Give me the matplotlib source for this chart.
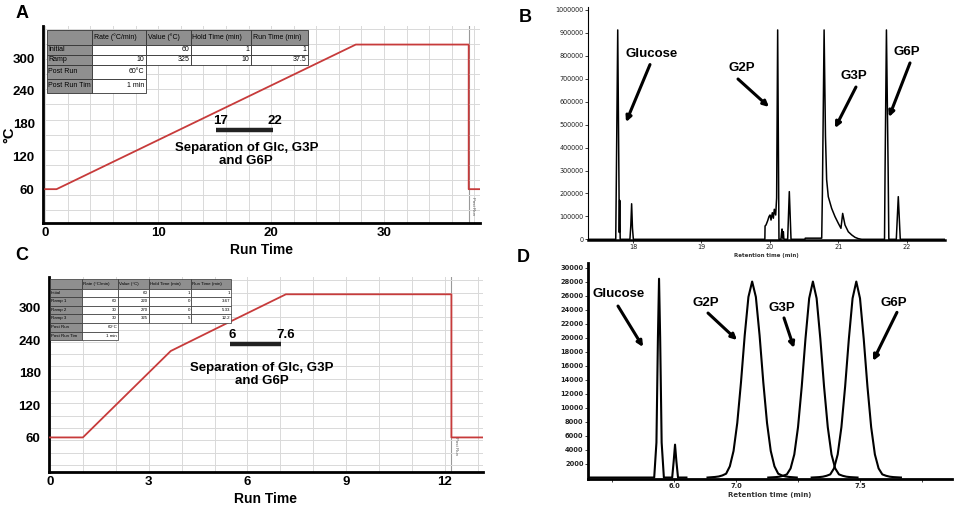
import matplotlib
matplotlib.use("Agg")
import matplotlib.pyplot as plt
from matplotlib.patches import Rectangle
from matplotlib.ticker import MultipleLocator

plt.rcParams['font.family'] = ['Liberation Sans', 'DejaVu Sans']

# ------------------------------------------------------------------ data
# Panel A: oven temperature program (min, degC)
a_time = [0, 1, 27.5, 37.5, 37.5, 38.5]
a_temp = [60, 60, 325, 325, 60, 60]
a_xticks = [0, 10, 20, 30]
a_yticks = [60, 120, 180, 240, 300]
a_postrun = 37.5
a_window_labels = ["17", "22"]
table_header = ["", "Rate (°C/min)", "Value (°C)", "Hold Time (min)", "Run Time (min)"]
a_table_rows = [["Initial", "", "60", "1", "1"],
                ["Ramp", "10", "325", "10", "37.5"],
                ["Post Run", "60°C"],
                ["Post Run Tim", "1 min"]]

# Panel C: fast oven temperature program
c_time = [0, 1, 3.67, 5.33, 7.17, 12.2, 12.2, 13.2]
c_temp = [60, 60, 220, 270, 325, 325, 60, 60]
c_xticks = [0, 3, 6, 9, 12]
c_yticks = [60, 120, 180, 240, 300]
c_postrun = 12.2
c_window_labels = ["6", "7.6"]
c_table_rows = [["Initial", "", "60", "1", "1"],
                ["Ramp 1", "60", "220", "0", "3.67"],
                ["Ramp 2", "30", "270", "0", "5.33"],
                ["Ramp 3", "30", "325", "5", "12.2"],
                ["Post Run", "60°C"],
                ["Post Run Tim", "1 min"]]
separation_text = "Separation of Glc, G3P\nand G6P"

# Panel B: chromatogram (retention time, min ; abundance)
b_time = [17.343, 17.748, 17.758, 17.777, 17.795, 17.800, 17.806, 17.813,
          17.955, 17.968, 17.980, 17.992, 18.005,
          19.925, 19.928, 19.942, 19.966, 19.985, 20.000, 20.015, 20.034, 20.049,
          20.063, 20.083, 20.097, 20.112, 20.131,
          20.160, 20.168, 20.176, 20.186, 20.195, 20.202, 20.210,
          20.258, 20.282, 20.307,
          20.510, 20.515, 20.740,
          20.755, 20.765, 20.790, 20.810, 20.827, 20.851, 20.900, 20.949, 20.997,
          21.036, 21.061, 21.095, 21.143, 21.193, 21.241, 21.289, 21.339,
          21.672, 21.680, 21.700, 21.725, 21.735,
          21.844, 21.873, 21.902,
          22.555]
b_signal = [0, 0, 300000, 913000, 250000, 30000, 170000, 0,
            0, 60000, 155000, 50000, 0,
            0, 58000, 62500, 81000, 99000, 106000, 84000, 116000, 92000,
            131000, 106000, 180000, 913000, 0,
            0, 26000, 45000, 5000, 33000, 3000, 0,
            0, 208000, 0,
            0, 5000, 5000,
            5000, 200000, 913000, 450000, 260000, 186000, 135000, 99000, 70000,
            48000, 113000, 62500, 33000, 19000, 8700, 2900, 0,
            0, 300000, 913000, 300000, 0,
            0, 186000, 0,
            0]
b_xticks = [18, 19, 20, 21, 22]
b_yticks = [0, 100000, 200000, 300000, 400000, 500000, 600000, 700000,
            800000, 900000, 1000000]

# Panel D: chromatogram of fast method
d_glc_time = [5.306, 5.840, 5.858, 5.870, 5.879, 5.888, 5.900, 5.918,
              5.985, 5.997, 6.008, 6.019, 6.032, 6.100]
d_glc_signal = [0, 0, 5000, 20000, 28400, 20000, 5000, 0,
                0, 2300, 4700, 2300, 0, 0]
d_g2p_time = [6.27, 6.33, 6.36, 6.39, 6.42, 6.45, 6.48, 6.51, 6.54, 6.57, 6.60, 6.63,
              6.66, 6.69, 6.72, 6.75, 6.78, 6.81, 6.84, 6.87, 6.90, 6.93, 6.99]
d_g2p_signal = [0, 80, 150, 300, 550, 1600, 3800, 7800, 13600, 20300, 25800, 28000,
                25800, 20300, 13600, 7800, 3800, 1600, 550, 300, 150, 80, 0]
d_g3p_time = [6.76, 6.82, 6.85, 6.88, 6.91, 6.94, 6.97, 7.00, 7.03, 7.06, 7.09, 7.12,
              7.15, 7.18, 7.21, 7.24, 7.27, 7.30, 7.33, 7.36, 7.39, 7.42, 7.48]
d_g3p_signal = [0, 60, 120, 250, 450, 1300, 3300, 7200, 13000, 19800, 25600, 28000,
                25600, 19800, 13000, 7200, 3300, 1300, 450, 250, 120, 60, 0]
d_g6p_time = [7.11, 7.17, 7.20, 7.23, 7.26, 7.29, 7.32, 7.35, 7.38, 7.41, 7.44, 7.47,
              7.50, 7.53, 7.56, 7.59, 7.62, 7.65, 7.68, 7.71, 7.74, 7.77, 7.83]
d_g6p_signal = [0, 60, 120, 250, 450, 1300, 3300, 7200, 13000, 19800, 25600, 28000,
                25600, 19800, 13000, 7200, 3300, 1300, 450, 250, 120, 60, 0]
d_xticks = [5.5, 6.0, 6.5, 7.0, 7.5, 8.0]
d_xticklabels = ["", "6.0", "7.0", "", "7.5", ""]
d_yticks = list(range(2000, 30001, 2000))

peak_names = ["Glucose", "G2P", "G3P", "G6P"]

# ------------------------------------------------------------------ figure
W, H = 957, 508
fig = plt.figure(figsize=(W / 100, H / 100), dpi=100)
fig.patch.set_facecolor("white")


def fx(x):
    return x / W


def fy(y):
    return 1 - y / H


def px_axes(l, t, r, b):
    return fig.add_axes([l / W, 1 - b / H, (r - l) / W, (b - t) / H])


RED = "#c73b3b"
GRID = "#d9d9d9"


def style_program(ax, xlim, ylim, xticks, yticks, xgrid, ygrid, yoff):
    ax.set_xlim(*xlim)
    ax.set_ylim(*ylim)
    ax.set_xticks(xticks)
    ax.set_yticks(yticks)
    ax.xaxis.remove_overlapping_locs = False
    ax.yaxis.remove_overlapping_locs = False
    ax.xaxis.set_minor_locator(MultipleLocator(xgrid))
    ax.yaxis.set_minor_locator(MultipleLocator(ygrid, offset=yoff))
    ax.grid(which="minor", color=GRID, lw=0.7)
    ax.tick_params(which="both", length=0)
    ax.tick_params(axis="y", pad=6, labelsize=9.5)
    ax.tick_params(axis="x", pad=3, labelsize=9.5)
    for lab in ax.get_xticklabels() + ax.get_yticklabels():
        lab.set_fontweight("bold")
    for s in ["top", "right"]:
        ax.spines[s].set_visible(False)
    for s in ["left", "bottom"]:
        ax.spines[s].set_linewidth(2)
        ax.spines[s].set_color("black")
    ax.set_xlabel("Run Time", fontsize=10, fontweight="bold", labelpad=3)


def draw_table(cols, rows, header, body, fs, lw, pad):
    grey = "#8f8f8f"
    allrows = [header] + body
    for i, cells in enumerate(allrows):
        y0, y1 = rows[i], rows[i + 1]
        for j, txt in enumerate(cells):
            x0, x1 = cols[j], cols[j + 1]
            fc = grey if (i == 0 or j == 0) else "white"
            fig.add_artist(Rectangle((fx(x0), fy(y1)), (x1 - x0) / W, (y1 - y0) / H,
                                     transform=fig.transFigure, facecolor=fc,
                                     edgecolor="#333333", lw=lw, zorder=5))
            if not txt:
                continue
            if i == 0 or j == 0:
                fig.text(fx(x0 + pad), fy((y0 + y1) / 2), txt, ha="left", va="center",
                         fontsize=fs, zorder=6)
            else:
                fig.text(fx(x1 - pad), fy((y0 + y1) / 2), txt, ha="right", va="center",
                         fontsize=fs, zorder=6)


def postrun_marker(ax, x, ytxt):
    ax.axvline(x, color="#9a9a9a", lw=0.8, zorder=1.5)
    ax.text(x + 0.005 * (ax.get_xlim()[1] - ax.get_xlim()[0]), ytxt, "Post Run",
            rotation=270, fontsize=3.2, color="#555555", ha="left", va="center")


# ---------------- Panel A
axA = px_axes(43, 26, 480, 223)
axA.plot(a_time, a_temp, color=RED, lw=1.3, zorder=3)
style_program(axA, (-0.2, 38.5), (-2, 359), a_xticks, a_yticks, 2, 27.6, 22)
axA.set_ylabel("°C", fontsize=10.5, fontweight="bold")
axA.yaxis.set_label_coords(-0.060, 0.45)
postrun_marker(axA, a_postrun, 30)
axA.plot([15.13, 20.18], [167.6, 167.6], color="#222222", lw=3.2, solid_capstyle="butt")
axA.text(15.5, 184, a_window_labels[0], ha="center", va="center", fontsize=9.5, fontweight="bold")
axA.text(20.35, 184, a_window_labels[1], ha="center", va="center", fontsize=9.5, fontweight="bold")
axA.text(17.8, 124, separation_text, ha="center", va="center", fontsize=9.5,
         fontweight="bold", multialignment="center", linespacing=1.15)
draw_table([47, 92, 146, 191, 251, 308], [30, 45, 54.5, 64.5, 78.5, 92.5],
           table_header, a_table_rows, 5.0, 0.6, 1.5)

# ---------------- Panel C
axC = px_axes(49, 277, 483, 472)
axC.plot(c_time, c_temp, color=RED, lw=1.3, zorder=3)
style_program(axC, (-0.03, 13.16), (-4, 357), c_xticks, c_yticks, 1, 22.8, 9)
postrun_marker(axC, c_postrun, 45)
axC.plot([5.47, 7.02], [233, 233], color="#222222", lw=3.2, solid_capstyle="butt")
axC.text(5.53, 250, c_window_labels[0], ha="center", va="center", fontsize=9.5, fontweight="bold")
axC.text(7.17, 250, c_window_labels[1], ha="center", va="center", fontsize=9.5, fontweight="bold")
axC.text(6.44, 176, separation_text, ha="center", va="center", fontsize=9.5,
         fontweight="bold", multialignment="center", linespacing=1.15)
draw_table([50, 82, 118, 149, 191, 231],
           [279, 288.5, 297, 305.5, 314, 322.5, 331.5, 340],
           table_header, c_table_rows, 3.2, 0.5, 1.0)


def style_chrom(ax, xw, yw, tick_fs, label_fs, bold):
    for s in ["top", "right"]:
        ax.spines[s].set_visible(False)
    ax.spines["bottom"].set_linewidth(xw)
    ax.spines["left"].set_linewidth(yw)
    ax.tick_params(axis="both", direction="out", length=2, width=0.6, pad=1.2,
                   labelsize=tick_fs, labelfontfamily="DejaVu Sans", colors="#222222")
    if bold:
        for lab in ax.get_yticklabels() + ax.get_xticklabels():
            lab.set_fontweight("bold")
    ax.set_xlabel("Retention time (min)", fontsize=label_fs, fontweight="bold",
                  family="DejaVu Sans", labelpad=1.5, color="#333333")


def label_peaks(ax, names, texts, tails, heads, fs):
    for name, tpos, tail, head in zip(names, texts, tails, heads):
        ax.text(tpos[0], tpos[1], name, ha="center", va="center", fontsize=fs,
                fontweight="bold")
        ax.annotate("", xy=head, xytext=tail,
                    arrowprops=dict(arrowstyle="-|>", color="black", lw=2.2,
                                    mutation_scale=8, shrinkA=0, shrinkB=0))


# ---------------- Panel B
axB = px_axes(588, 7, 945, 240)
axB.plot(b_time, b_signal, color="black", lw=1.1)
axB.set_xlim(17.343, 22.555)
axB.set_ylim(-3000, 1013000)
axB.set_xticks(b_xticks)
axB.set_xticklabels([str(v) for v in b_xticks])
axB.set_yticks(b_yticks)
axB.set_yticklabels([str(v) for v in b_yticks])
style_chrom(axB, 1.8, 0.8, 4.7, 4.0, False)
label_peaks(axB, peak_names,
            [(18.277, 808000), (19.59, 747000), (21.226, 712000), (22.0, 817000)],
            [(18.248, 762000), (19.533, 699000), (21.255, 664000), (22.044, 769000)],
            [(17.898, 511000), (19.985, 577000), (20.949, 485000), (21.737, 533000)],
            9.5)

# ---------------- Panel D
axD = px_axes(588, 263, 952, 479)
axD.plot(d_glc_time, d_glc_signal, color="black", lw=1.5)
axD.plot(d_g2p_time, d_g2p_signal, color="black", lw=1.5)
axD.plot(d_g3p_time, d_g3p_signal, color="black", lw=1.5)
axD.plot(d_g6p_time, d_g6p_signal, color="black", lw=1.5)
axD.set_xlim(5.306, 8.242)
axD.set_ylim(-210, 30650)
axD.set_xticks(d_xticks)
axD.set_xticklabels(d_xticklabels)
axD.set_yticks(d_yticks)
axD.set_yticklabels([str(v) for v in d_yticks])
style_chrom(axD, 2.0, 2.0, 4.8, 5.0, True)
label_peaks(axD, peak_names,
            [(5.556, 26200), (6.258, 24900), (6.871, 24200), (7.774, 24900)],
            [(5.548, 24500), (6.274, 23500), (6.887, 22800), (7.798, 23600)],
            [(5.75, 18650), (6.508, 19640), (6.968, 18500), (7.605, 16660)],
            9.5)

# ---------------- panel letters
for letter, (x, y) in zip("ABCD", [(22, 14), (525, 18), (22, 255), (523, 258)]):
    fig.text(fx(x), fy(y), letter, ha="center", va="center", fontsize=13,
             fontweight="bold")

fig.savefig("out.png", dpi=100, facecolor="white")
